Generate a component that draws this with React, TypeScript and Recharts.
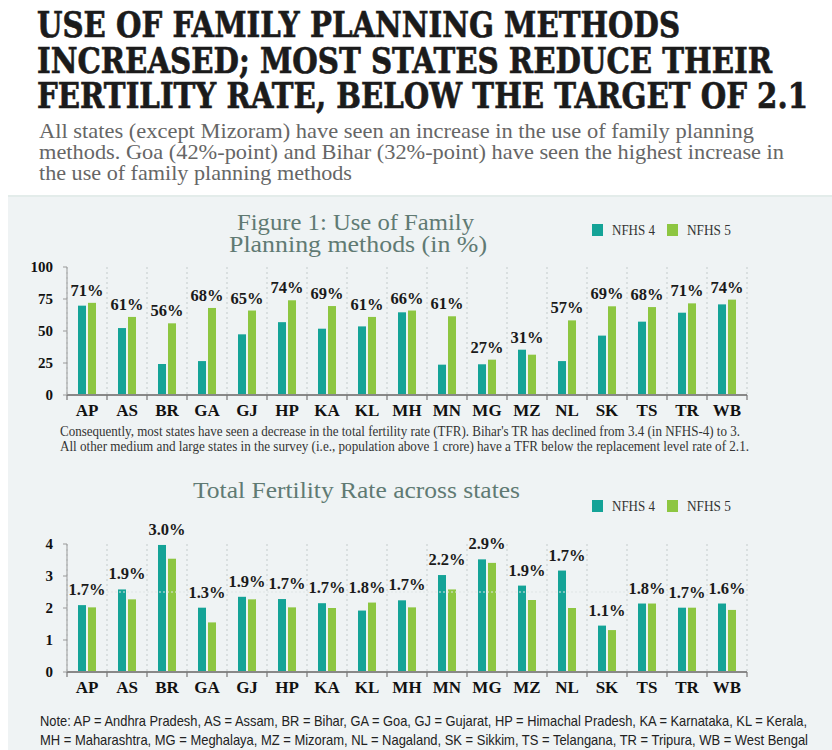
import React from 'react';
import { BarChart, Bar, XAxis, YAxis, CartesianGrid, LabelList, ReferenceLine } from 'recharts';

const states = ['AP', 'AS', 'BR', 'GA', 'GJ', 'HP', 'KA', 'KL', 'MH', 'MN', 'MG', 'MZ', 'NL', 'SK', 'TS', 'TR', 'WB'];

// Figure 1: use of family planning methods (%)
const fpNfhs4 = [69.8, 52.3, 24.2, 26.5, 47.4, 56.9, 51.8, 53.6, 64.6, 23.7, 24, 35.4, 26.5, 46.4, 57.3, 64.3, 70.8];
const fpNfhs5 = [72, 61, 56, 68, 66, 74, 69.5, 61, 66, 61.5, 27.6, 31.5, 58.3, 69.3, 68.7, 71.6, 74.5];
const fpLabels = [71, 61, 56, 68, 65, 74, 69, 61, 66, 61, 27, 31, 57, 69, 68, 71, 74];
const fpTicks = [0, 25, 50, 75, 100];

// Total fertility rate
const tfrNfhs4 = [2.09, 2.58, 3.97, 2.01, 2.35, 2.28, 2.15, 1.92, 2.24, 3.03, 3.52, 2.7, 3.17, 1.45, 2.14, 2.01, 2.14];
const tfrNfhs5 = [2.02, 2.27, 3.54, 1.55, 2.27, 2.02, 2.0, 2.17, 2.02, 2.58, 3.41, 2.25, 2.0, 1.31, 2.14, 2.01, 1.94];
const tfrLabels = [1.7, 1.9, 3.0, 1.3, 1.9, 1.7, 1.7, 1.8, 1.7, 2.2, 2.9, 1.9, 1.7, 1.1, 1.8, 1.7, 1.6];
const tfrTicks = [0, 1, 2, 3, 4];

const TEAL = '#14a397';
const GREEN = '#8dc641';
const SERIF = '"Liberation Serif", "DejaVu Serif", serif';
const HEAVY = '"DejaVu Serif", "Liberation Serif", serif';
const SANS = '"Liberation Sans Narrow", "Liberation Sans", Arial, sans-serif';
const TITLE_GREEN = '#607a73';

const fpData = states.map((s, i) => ({ state: s, nfhs4: fpNfhs4[i], nfhs5: fpNfhs5[i] }));
const tfrData = states.map((s, i) => ({ state: s, nfhs4: tfrNfhs4[i], nfhs5: tfrNfhs5[i] }));

// dotted separators between the state bands
const bandEdges = ({ offset }: any) =>
  Array.from({ length: states.length + 1 }, (_, i) => offset.left + (i * offset.width) / states.length);

const CatTick = ({ x, y, payload, index }: any) => {
  const half = payload && payload.offset ? payload.offset : 20;
  return (
    <g>
      <line x1={x - half} y1={y} x2={x - half} y2={y + 5} stroke="#777" strokeWidth={1.2} />
      {index === states.length - 1 && (
        <line x1={x + half} y1={y} x2={x + half} y2={y + 5} stroke="#777" strokeWidth={1.2} />
      )}
      <text x={x} y={y + 21} textAnchor="middle" fontFamily={SERIF} fontWeight={700} fontSize={17} fill="#111">
        {payload.value}
      </text>
    </g>
  );
};

const makeLabel = (other: number[], labels: number[], fmt: (v: number) => string, gap: number) =>
  (props: any) => {
    const { x, y, height, value, index } = props;
    if (!value) return null;
    const ppu = height / value;
    const otherTop = y + height - other[index] * ppu;
    const top = Math.min(y, otherTop);
    return (
      <text x={x - 1} y={top - gap} textAnchor="middle" fontFamily={SERIF} fontWeight={700} fontSize={16.5} fill="#1a1a1a">
        {fmt(labels[index])}
      </text>
    );
  };

const Legend = ({ y }: { y: number }) => (
  <g fontFamily={SERIF} fontSize={15} fill="#333">
    <rect x={592} y={y} width={11} height={12} fill={TEAL} />
    <text x={612} y={y + 11} textLength={43} lengthAdjust="spacingAndGlyphs">NFHS 4</text>
    <rect x={667} y={y} width={11} height={12} fill={GREEN} />
    <text x={687} y={y + 11} textLength={44} lengthAdjust="spacingAndGlyphs">NFHS 5</text>
  </g>
);

const Chart = ({ data, domain, ticks, other, labels, fmt, gap, refY }: any) => (
  <BarChart
    width={832}
    height={230}
    data={data}
    margin={{ top: 67, right: 85, left: 0, bottom: 5 }}
    barSize={8}
    barGap={2}
  >
    <CartesianGrid horizontal={false} stroke="#c3cbcb" strokeDasharray="2 3" verticalCoordinatesGenerator={bandEdges} />
    {refY !== undefined && <ReferenceLine y={refY} stroke="#dfe5e5" strokeDasharray="2 2" />}
    <XAxis
      dataKey="state"
      height={30}
      tick={<CatTick />}
      tickLine={false}
      tickSize={0}
      tickMargin={0}
      axisLine={{ stroke: '#888', strokeWidth: 2 }}
      interval={0}
    />
    <YAxis
      width={67}
      domain={domain}
      ticks={ticks}
      interval={0}
      tickSize={4}
      tickMargin={10}
      axisLine={{ stroke: '#999', strokeWidth: 1 }}
      tickLine={{ stroke: '#999' }}
      tick={{ fontFamily: SERIF, fontWeight: 700, fontSize: 15, fill: '#111' }}
    />
    <Bar dataKey="nfhs4" fill={TEAL} isAnimationActive={false} />
    <Bar dataKey="nfhs5" fill={GREEN} isAnimationActive={false}>
      <LabelList dataKey="nfhs5" content={makeLabel(other, labels, fmt, gap)} />
    </Bar>
  </BarChart>
);

export default function App() {
  return (
    <div style={{ position: 'relative', width: 832, height: 750, background: '#fff', overflow: 'hidden' }}>
      <style>{'body{margin:0}'}</style>
      <svg width={832} height={750} style={{ position: 'absolute', left: 0, top: 0 }}>
        <rect x={8} y={196} width={824} height={554} fill="#eff3f4" />
        <line x1={8} y1={196} x2={832} y2={196} stroke="#e3ecea" strokeWidth={2} />
        <g fontFamily={HEAVY} fontWeight={700} fontSize={36} fill="#1b1b1b" stroke="#1b1b1b" strokeWidth={0.7}>
          <text x={37} y={37} textLength={643} lengthAdjust="spacingAndGlyphs">USE OF FAMILY PLANNING METHODS</text>
          <text x={37} y={73} textLength={735} lengthAdjust="spacingAndGlyphs">INCREASED; MOST STATES REDUCE THEIR</text>
          <text x={37} y={108} textLength={771} lengthAdjust="spacingAndGlyphs">FERTILITY RATE, BELOW THE TARGET OF 2.1</text>
        </g>
        <g fontFamily={SERIF} fontSize={21} fill="#666">
          <text x={39} y={138} textLength={715} lengthAdjust="spacingAndGlyphs">
            All states (except Mizoram) have seen an increase in the use of  family planning
          </text>
          <text x={39} y={159} textLength={745} lengthAdjust="spacingAndGlyphs">
            methods. Goa (42%-point) and Bihar (32%-point) have seen the highest increase in
          </text>
          <text x={39} y={180} textLength={313} lengthAdjust="spacingAndGlyphs">
            the use of family planning methods
          </text>
        </g>
        <g fontFamily={SERIF} fontSize={24} fill={TITLE_GREEN}>
          <text x={237} y={230} textLength={237} lengthAdjust="spacingAndGlyphs">Figure 1: Use of Family</text>
          <text x={229} y={252} textLength={258} lengthAdjust="spacingAndGlyphs">Planning methods (in %)</text>
          <text x={193} y={498} textLength={327} lengthAdjust="spacingAndGlyphs">Total Fertility Rate across states</text>
        </g>
        <Legend y={224} />
        <Legend y={500} />
        <g fontFamily={SERIF} fontSize={14} fill="#333">
          <text x={60} y={436} textLength={680} lengthAdjust="spacingAndGlyphs">
            Consequently, most states have seen a decrease in the total fertility rate (TFR). Bihar's TR has declined from 3.4 (in NFHS-4) to 3.
          </text>
          <text x={60} y={451} textLength={689} lengthAdjust="spacingAndGlyphs">
            All other medium and large states in the survey (i.e., population above 1 crore) have a TFR below the replacement level rate of 2.1.
          </text>
        </g>
        <g fontFamily={SANS} fontSize={14.5} fill="#222">
          <text x={40} y={726} textLength={767} lengthAdjust="spacingAndGlyphs">
            Note: AP = Andhra Pradesh, AS = Assam, BR = Bihar, GA = Goa, GJ = Gujarat, HP = Himachal Pradesh, KA = Karnataka, KL = Kerala,
          </text>
          <text x={40} y={745} textLength={768} lengthAdjust="spacingAndGlyphs">
            MH = Maharashtra, MG = Meghalaya, MZ = Mizoram, NL = Nagaland,  SK = Sikkim, TS = Telangana, TR = Tripura, WB = West Bengal
          </text>
        </g>
      </svg>
      <div style={{ position: 'absolute', left: 0, top: 200 }}>
        <Chart data={fpData} domain={[0, 100]} ticks={fpTicks} other={fpNfhs4} labels={fpLabels}
          fmt={(v: number) => `${v}%`} gap={7} />
      </div>
      <div style={{ position: 'absolute', left: 0, top: 477 }}>
        <Chart data={tfrData} domain={[0, 4]} ticks={tfrTicks} other={tfrNfhs4} labels={tfrLabels}
          fmt={(v: number) => `${v.toFixed(1)}%`} gap={10} refY={2.5} />
      </div>
    </div>
  );
}
